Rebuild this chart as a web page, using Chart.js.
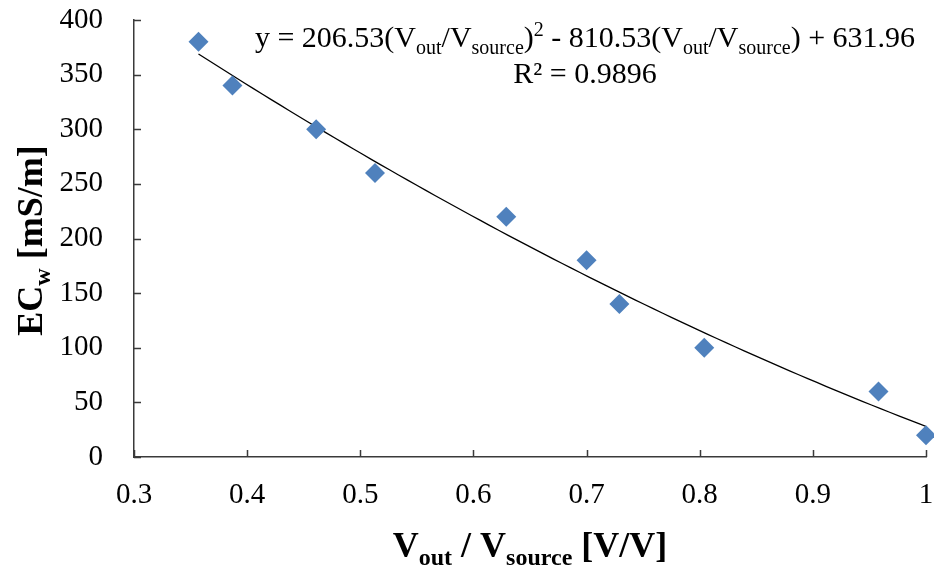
<!DOCTYPE html>
<html>
<head>
<meta charset="utf-8">
<title>EC_w vs Vout/Vsource</title>
<script src="https://cdn.jsdelivr.net/npm/chart.js@4.4.0/dist/chart.umd.min.js"></script>
<style>
  html, body { margin: 0; padding: 0; background: #fff; }
  #wrap { width: 934px; height: 571px; position: relative; }
</style>
</head>
<body>
<div id="wrap"><canvas id="ec-chart"></canvas></div>
<script>
// measured points
const ratio = [0.357, 0.387, 0.461, 0.513, 0.629, 0.700, 0.729, 0.804, 0.958, 1.0];
const ecw = [380, 340, 300, 260, 220, 180, 140, 100, 60, 20];

// quadratic trendline y = a*x^2 + b*x + c
const fitCoef = [206.53, -810.53, 631.96];
const rSquared = '0.9896';

const xRange = [0.3, 1];
const yRange = [0, 400];

const serif = '"Liberation Serif", "Times New Roman", serif';
const axisColor = '#3a3a3a';
const markerColor = '#4f81bd';

// trendline evaluated between first and last measurement
let trend = [];
const steps = 80;
for (let i = 0; i <= steps; i++) {
  const xv = ratio[0] + (ratio[ratio.length - 1] - ratio[0]) * i / steps;
  trend.push({x: xv, y: fitCoef[0] * xv * xv + fitCoef[1] * xv + fitCoef[2]});
}

const points = ratio.map((r, i) => ({x: r, y: ecw[i]}));

// draws a run of text pieces (normal / sub / sup), anchored by alignment
function drawRich(ctx, parts, x, y, size, bold, align) {
  const weight = bold ? 'bold ' : '';
  const smallSize = Math.round(size * 0.66);
  let widths = parts.map(p => {
    ctx.font = weight + (p.sub || p.sup ? smallSize : size) + 'px ' + serif;
    return ctx.measureText(p.t).width;
  });
  const total = widths.reduce((s, w) => s + w, 0);
  let cx = align === 'center' ? x - total / 2 : x;
  ctx.textAlign = 'left';
  ctx.textBaseline = 'alphabetic';
  parts.forEach((p, i) => {
    ctx.font = weight + (p.sub || p.sup ? smallSize : size) + 'px ' + serif;
    let dy = 0;
    if (p.sub) dy = size * 0.22;
    if (p.sup) dy = -size * 0.36;
    ctx.fillText(p.t, cx, y + dy);
    cx += widths[i];
  });
}

const decorations = {
  id: 'decorations',
  afterDraw(chart) {
    const {ctx, chartArea: a, scales} = chart;
    const x = scales.x, y = scales.y;
    ctx.save();

    // short tick marks pointing into the plot
    ctx.strokeStyle = axisColor;
    ctx.lineWidth = 1.5;
    ctx.beginPath();
    x.ticks.forEach(t => {
      const px = Math.round(x.getPixelForValue(t.value)) + 0.5;
      ctx.moveTo(px, a.bottom);
      ctx.lineTo(px, a.bottom - 7);
    });
    y.ticks.forEach(t => {
      const py = Math.round(y.getPixelForValue(t.value)) + 0.5;
      ctx.moveTo(a.left, py);
      ctx.lineTo(a.left + 7, py);
    });
    ctx.stroke();

    ctx.fillStyle = '#000';

    // x axis title
    drawRich(ctx, [
      {t: 'V'}, {t: 'out', sub: true}, {t: ' / V'}, {t: 'source', sub: true}, {t: ' [V/V]'}
    ], (a.left + a.right) / 2, 557, 36, true, 'center');

    // y axis title (rotated)
    ctx.save();
    ctx.translate(42, (a.top + a.bottom) / 2 + 2);
    ctx.rotate(-Math.PI / 2);
    drawRich(ctx, [
      {t: 'EC'}, {t: 'w', sub: true}, {t: ' [mS/m]'}
    ], 0, 0, 36, true, 'center');
    ctx.restore();

    // trendline equation
    const eqX = 585;
    drawRich(ctx, [
      {t: 'y = ' + fitCoef[0].toFixed(2) + '(V'}, {t: 'out', sub: true}, {t: '/V'}, {t: 'source', sub: true},
      {t: ')'}, {t: '2', sup: true},
      {t: ' - ' + Math.abs(fitCoef[1]).toFixed(2) + '(V'}, {t: 'out', sub: true}, {t: '/V'}, {t: 'source', sub: true},
      {t: ') + ' + fitCoef[2].toFixed(2)}
    ], eqX, 47, 30, false, 'center');
    drawRich(ctx, [{t: 'R² = ' + rSquared}], eqX, 83, 30, false, 'center');

    ctx.restore();
  }
};

new Chart(document.getElementById('ec-chart'), {
  type: 'scatter',
  data: {
    datasets: [
      {
        label: 'Poly. fit',
        data: trend,
        showLine: true,
        borderColor: '#000',
        borderWidth: 1.3,
        pointRadius: 0,
        tension: 0,
        order: 2
      },
      {
        label: 'EC_w',
        data: points,
        pointStyle: 'rectRot',
        pointRadius: 10,
        pointBackgroundColor: markerColor,
        pointBorderColor: markerColor,
        pointBorderWidth: 0,
        clip: false,
        order: 1
      }
    ]
  },
  options: {
    responsive: true,
    maintainAspectRatio: false,
    animation: false,
    layout: { autoPadding: false, padding: { left: 0, right: 8, top: 20, bottom: 0 } },
    plugins: {
      legend: { display: false },
      tooltip: { enabled: false }
    },
    scales: {
      x: {
        type: 'linear',
        min: xRange[0],
        max: xRange[1],
        ticks: {
          stepSize: 0.1,
          padding: 21,
          color: '#000',
          font: { family: serif, size: 29 },
          maxRotation: 0,
          callback: v => String(Number(v.toFixed(1)))
        },
        grid: { display: true, drawOnChartArea: false, drawTicks: false },
        border: { display: true, color: axisColor, width: 1.5 },
        afterFit: s => {
          s.height = 114;
          s.paddingLeft = 0;
          s.paddingRight = 0;
        }
      },
      y: {
        type: 'linear',
        min: yRange[0],
        max: yRange[1],
        ticks: {
          stepSize: 50,
          padding: 31,
          color: '#000',
          font: { family: serif, size: 29 }
        },
        grid: { display: true, drawOnChartArea: false, drawTicks: false },
        border: { display: true, color: axisColor, width: 1.5 },
        afterFit: s => {
          s.width = 134;
          s.paddingTop = 0;
          s.paddingBottom = 0;
        }
      }
    }
  },
  plugins: [decorations]
});
</script>
</body>
</html>
